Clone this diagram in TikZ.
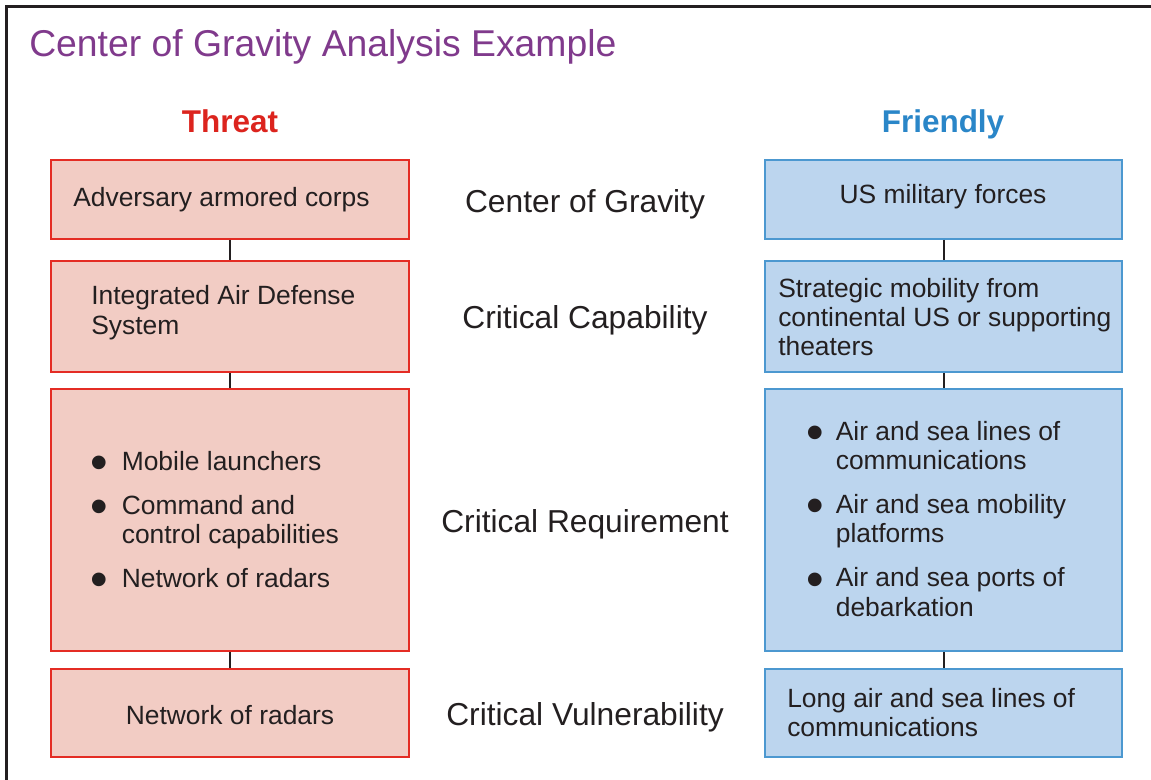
\documentclass[tikz,border=0pt]{standalone}
\usepackage{fontspec}
\setmainfont{Liberation Sans}
\usetikzlibrary{positioning}

\newlength\px
\setlength\px{0.75pt}
\newcommand{\blt}{\smash{\raisebox{-7pt}{\scalebox{1.9}{\textbullet}}}}

\definecolor{titlepurple}{RGB}{128,58,140}
\definecolor{threatred}{RGB}{220,36,30}
\definecolor{threatline}{RGB}{228,44,36}
\definecolor{threatfill}{RGB}{242,204,196}
\definecolor{friendblue}{RGB}{42,134,200}
\definecolor{friendline}{RGB}{76,152,208}
\definecolor{friendfill}{RGB}{188,213,238}
\definecolor{ink}{RGB}{35,31,32}

\begin{document}
\begin{tikzpicture}[
    x=0.75pt, y=-0.75pt,
    threatbox/.style={draw=threatline, fill=threatfill, line width=2\px, minimum width=358\px, inner sep=0pt},
    friendbox/.style={draw=friendline, fill=friendfill, line width=2\px, minimum width=357\px, inner sep=0pt},
    boxtext/.style={inner sep=0pt, align=left, text=ink, font=\fontsize{19.8}{22}\selectfont},
    level/.style={inner sep=0pt, text=ink, font=\fontsize{23.8}{26}\selectfont},
    heading/.style={inner sep=0pt, font=\fontsize{23.6}{26}\selectfont\bfseries},
    link/.style={draw=ink, line width=2\px}
]
\useasboundingbox (0,0) rectangle (1151,780);

%-------------------------------------------------
% Frame and title
%-------------------------------------------------
\draw[ink, line width=3\px] (6,790) -- (6,7) -- (1160,7);
\node[inner sep=0pt, anchor=base west, text=titlepurple, font=\fontsize{28}{30}\selectfont] (title) at (29,57) {Center of Gravity Analysis Example};

\node[heading, text=threatred,  anchor=base] (threat)   at (230,133) {Threat};
\node[heading, text=friendblue, anchor=base] (friendly) at (943,133) {Friendly};

%-------------------------------------------------
% Threat column
%-------------------------------------------------
\node[threatbox, minimum height=79\px]  (tcog) at (230,199.5) {};
\node[threatbox, minimum height=111\px] (tcap) at (230,316.5) {};
\node[threatbox, minimum height=262\px] (treq) at (230,520)   {};
\node[threatbox, minimum height=88\px]  (tvul) at (230,713)   {};

\draw[link] (tcog) -- (tcap);
\draw[link] (tcap) -- (treq);
\draw[link] (treq) -- (tvul);

\node[boxtext, anchor=base west] (tcogtext) at (73,207) {Adversary armored corps};
\node[boxtext, anchor=base west] (tcaptext) at (91,305) {%
    \begin{tabular}[t]{@{}l@{}}
    Integrated Air Defense\\
    System
    \end{tabular}};
\node[boxtext, anchor=base west] (treqtext) at (90,470) {%
    \begin{tabular}[t]{@{}l@{\hspace{14\px}}l@{}}
    \blt & Mobile launchers\\[11pt]
    \blt & Command and\\
         & control capabilities\\[11pt]
    \blt & Network of radars
    \end{tabular}};
\node[boxtext, anchor=base] (tvultext) at (230,724) {Network of radars};

%-------------------------------------------------
% Levels
%-------------------------------------------------
\node[level, anchor=base] (cog) at (585,213) {Center of Gravity};
\node[level, anchor=base] (cap) at (585,328) {Critical Capability};
\node[level, anchor=base] (req) at (585,532) {Critical Requirement};
\node[level, anchor=base] (vul) at (585,725) {Critical Vulnerability};

%-------------------------------------------------
% Friendly column
%-------------------------------------------------
\node[friendbox, minimum height=79\px]  (fcog) at (943.5,199.5) {};
\node[friendbox, minimum height=111\px] (fcap) at (943.5,316.5) {};
\node[friendbox, minimum height=262\px] (freq) at (943.5,520)   {};
\node[friendbox, minimum height=88\px]  (fvul) at (943.5,713)   {};

\draw[link] (fcog) -- (fcap);
\draw[link] (fcap) -- (freq);
\draw[link] (freq) -- (fvul);

\node[boxtext, anchor=base] (fcogtext) at (943,204) {US military forces};
\node[boxtext, anchor=base west] (fcaptext) at (778,297) {%
    \begin{tabular}[t]{@{}l@{}}
    Strategic mobility from\\
    continental US or supporting\\
    theaters
    \end{tabular}};
\node[boxtext, anchor=base west] (freqtext) at (806,440) {%
    \begin{tabular}[t]{@{}l@{\hspace{12\px}}l@{}}
    \blt & Air and sea lines of\\
         & communications\\[11pt]
    \blt & Air and sea mobility\\
         & platforms\\[11pt]
    \blt & Air and sea ports of\\
         & debarkation
    \end{tabular}};
\node[boxtext, anchor=base west] (fvultext) at (787,707) {%
    \begin{tabular}[t]{@{}l@{}}
    Long air and sea lines of\\
    communications
    \end{tabular}};

\end{tikzpicture}
\end{document}
